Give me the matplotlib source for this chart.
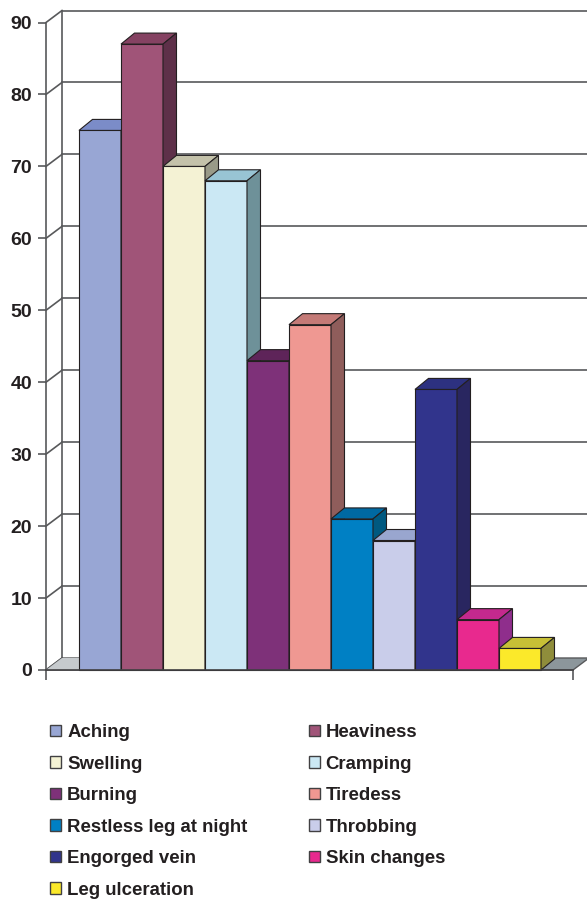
import numpy as np
import matplotlib.pyplot as plt
from matplotlib.patches import Polygon, Patch

plt.rcParams['font.family'] = ['Liberation Sans', 'DejaVu Sans']
plt.rcParams['font.weight'] = 'bold'

# data
symptoms = ["Aching", "Heaviness", "Swelling", "Cramping", "Burning", "Tiredess",
            "Restless leg at night", "Throbbing", "Engorged vein", "Skin changes",
            "Leg ulceration"]
values = [75, 87, 70, 68, 43, 48, 21, 18, 39, 7, 3]
front_colors = ["#98a6d4", "#a05478", "#f4f2d4", "#cbe8f4", "#7e3179", "#ef9892",
                "#0080c4", "#c9cdea", "#31348c", "#e8298e", "#fbe92a"]
top_colors = ["#7b8cc8", "#854262", "#c4c2aa", "#98c4d4", "#5e2459", "#c47a77",
              "#0069a2", "#99a6cf", "#2d3180", "#c4298e", "#c7c036"]
side_colors = ["#6a74a0", "#5e3049", "#999a88", "#6e9199", "#4e1e4a", "#8f5d5b",
               "#005980", "#7a82a6", "#292660", "#8f2e8c", "#8f8d3b"]
yticks = [0, 10, 20, 30, 40, 50, 60, 70, 80, 90]

W, H = 587, 901
fig = plt.figure(figsize=(W / 100, H / 100), dpi=100)

# front plane of the plot, in pixels
px_left, px_right, px_bottom, px_top = 46, 573, 670, 22.5
bar_px = 42.0
ax = fig.add_axes([px_left / W, (H - px_bottom) / H,
                   (px_right - px_left) / W, (px_bottom - px_top) / H])
xmin = (px_left - 79) / bar_px
xmax = (px_right - 79) / bar_px
ax.set_xlim(xmin, xmax)
ax.set_ylim(0, 90)

px_per_unit = (px_bottom - px_top) / 90
wdx, wdy = 16 / bar_px, 12 / px_per_unit      # wall depth
bdx, bdy = 13.5 / bar_px, 11 / px_per_unit    # bar depth

grid_c = "#58595b"
edge_c = "#231f20"

# floor
ax.add_patch(Polygon([(xmin, 0), (xmin + wdx, wdy), (xmax + wdx, wdy), (xmax, 0)],
                     closed=True, fc="#8c969b", ec=grid_c, lw=1.0, clip_on=False, zorder=1))
ax.add_patch(Polygon([(xmin, 0), (xmin + wdx, wdy), (0, wdy), (0, 0)],
                     closed=True, fc="#c6cacd", ec="none", clip_on=False, zorder=1))

# back wall gridlines and left wall
for t in yticks:
    if t > 0:
        ax.plot([xmin + wdx, xmax + wdx], [t + wdy, t + wdy], color=grid_c, lw=1.2,
                clip_on=False, zorder=0.5)
    ax.plot([xmin, xmin + wdx], [t, t + wdy], color=grid_c, lw=1.2, clip_on=False, zorder=0.6)
ax.plot([xmin + wdx, xmin + wdx], [wdy, 90 + wdy], color=grid_c, lw=1.2, clip_on=False, zorder=0.6)
ax.plot([xmax + wdx, xmax + wdx], [wdy, 90 + wdy], color=grid_c, lw=1.2, clip_on=False, zorder=0.6)

# bars, left to right so the right neighbour hides the side face
x = np.arange(len(values))
for i, v in enumerate(values):
    x0, x1 = x[i], x[i] + 1
    z = 2 + i * 0.01
    ax.add_patch(Polygon([(x0, 0), (x1, 0), (x1, v), (x0, v)], closed=True,
                         fc=front_colors[i], ec=edge_c, lw=0.8, zorder=z, clip_on=False))
    ax.add_patch(Polygon([(x0, v), (x1, v), (x1 + bdx, v + bdy), (x0 + bdx, v + bdy)], closed=True,
                         fc=top_colors[i], ec=edge_c, lw=0.8, zorder=z, clip_on=False))
    ax.add_patch(Polygon([(x1, 0), (x1 + bdx, bdy), (x1 + bdx, v + bdy), (x1, v)], closed=True,
                         fc=side_colors[i], ec=edge_c, lw=0.8, zorder=z, clip_on=False))

# axes
for s in ["top", "right"]:
    ax.spines[s].set_visible(False)
ax.spines["left"].set_color(grid_c)
ax.spines["left"].set_linewidth(1.2)
ax.spines["bottom"].set_color("#414042")
ax.spines["bottom"].set_linewidth(1.2)
ax.spines["left"].set_zorder(0.7)
ax.spines["bottom"].set_zorder(5)
ax.set_yticks(yticks)
ax.set_yticklabels([str(t) for t in yticks], fontsize=14, fontweight="bold", color=edge_c)
ax.tick_params(axis="y", length=6, width=1.2, color=grid_c, pad=4)
ax.set_xticks([xmin, xmax])
ax.set_xticklabels(["", ""])
ax.tick_params(axis="x", length=7, width=1.2, color=grid_c)
ax.patch.set_visible(False)

# legend, row-wise order
handles = [Patch(fc=front_colors[i], ec="#414042", lw=1.0, label=symptoms[i])
           for i in range(len(symptoms))]
order = [0, 2, 4, 6, 8, 10, 1, 3, 5, 7, 9]
fig.legend([handles[i] for i in order], [symptoms[i] for i in order],
           ncol=2, loc="upper left", bbox_to_anchor=(50 / W, 1 - 724 / H),
           frameon=False, prop={"size": 13.4, "weight": "bold"},
           handlelength=0.59, handleheight=0.59, handletextpad=0.33,
           labelspacing=0.78, columnspacing=3.28, borderpad=0, borderaxespad=0,
           labelcolor=edge_c)

fig.savefig("out.png", dpi=100)
